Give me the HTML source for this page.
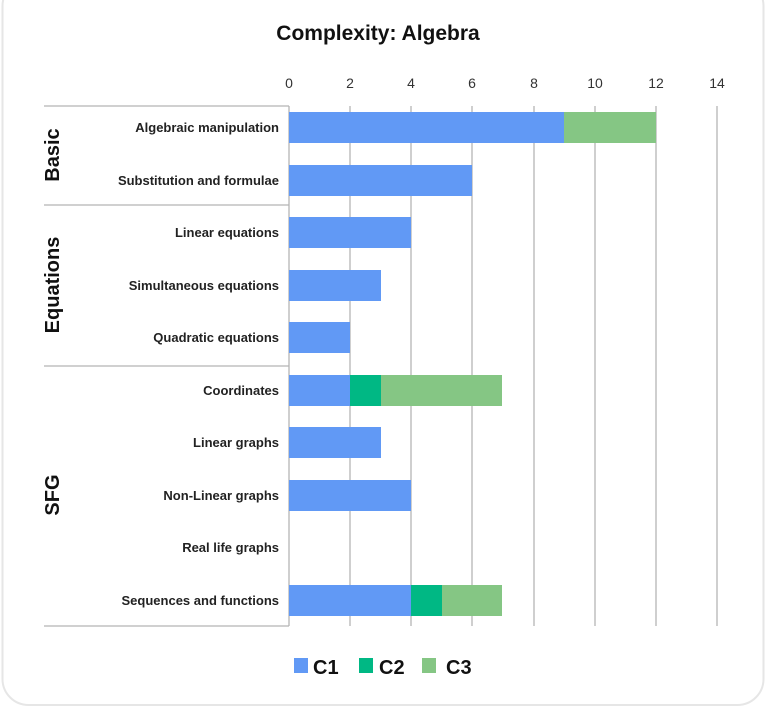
<!DOCTYPE html>
<html><head><meta charset="utf-8"><style>
body{margin:0;background:#fff;}
svg text{font-family:"Liberation Sans",sans-serif;}
</style></head><body>
<svg width="768" height="711" viewBox="0 0 768 711" xmlns="http://www.w3.org/2000/svg">
<rect x="2.5" y="-20" width="761" height="725" rx="26" fill="#fff" stroke="#e6e6e6" stroke-width="2"/>
<text x="378" y="40" text-anchor="middle" font-size="21" font-weight="bold" fill="#111">Complexity: Algebra</text>
<g stroke="#b5b5b5" stroke-width="1.3">
<line x1="350" y1="106" x2="350" y2="626"/><line x1="411" y1="106" x2="411" y2="626"/>
<line x1="472" y1="106" x2="472" y2="626"/><line x1="534" y1="106" x2="534" y2="626"/>
<line x1="595" y1="106" x2="595" y2="626"/><line x1="656" y1="106" x2="656" y2="626"/>
<line x1="717" y1="106" x2="717" y2="626"/>
<line x1="289" y1="106" x2="289" y2="626"/>
<line x1="44" y1="106" x2="289" y2="106"/><line x1="44" y1="205" x2="289" y2="205"/>
<line x1="44" y1="366" x2="289" y2="366"/><line x1="44" y1="626" x2="289" y2="626"/>
</g>
<g font-size="14" fill="#333" text-anchor="middle">
<text x="289" y="88">0</text><text x="350" y="88">2</text><text x="411" y="88">4</text><text x="472" y="88">6</text><text x="534" y="88">8</text><text x="595" y="88">10</text><text x="656" y="88">12</text><text x="717" y="88">14</text>
</g>
<g font-size="13" font-weight="bold" fill="#222" text-anchor="end">
<text x="279" y="132">Algebraic manipulation</text>
<text x="279" y="185">Substitution and formulae</text>
<text x="279" y="237">Linear equations</text>
<text x="279" y="290">Simultaneous equations</text>
<text x="279" y="342">Quadratic equations</text>
<text x="279" y="395">Coordinates</text>
<text x="279" y="447">Linear graphs</text>
<text x="279" y="500">Non-Linear graphs</text>
<text x="279" y="552">Real life graphs</text>
<text x="279" y="605">Sequences and functions</text>
</g>
<g font-size="20" font-weight="bold" fill="#111" text-anchor="middle">
<text transform="translate(59,155) rotate(-90)">Basic</text>
<text transform="translate(59,285) rotate(-90)">Equations</text>
<text transform="translate(59,495) rotate(-90)">SFG</text>
</g>
<g>
<rect x="289" y="112" width="275" height="31" fill="#6199f5"/><rect x="564" y="112" width="92" height="31" fill="#85c684"/>
<rect x="289" y="165" width="183" height="31" fill="#6199f5"/>
<rect x="289" y="217" width="122" height="31" fill="#6199f5"/>
<rect x="289" y="270" width="92" height="31" fill="#6199f5"/>
<rect x="289" y="322" width="61" height="31" fill="#6199f5"/>
<rect x="289" y="375" width="61" height="31" fill="#6199f5"/><rect x="350" y="375" width="31" height="31" fill="#00b884"/><rect x="381" y="375" width="121" height="31" fill="#85c684"/>
<rect x="289" y="427" width="92" height="31" fill="#6199f5"/>
<rect x="289" y="480" width="122" height="31" fill="#6199f5"/>
<rect x="289" y="585" width="122" height="31" fill="#6199f5"/><rect x="411" y="585" width="31" height="31" fill="#00b884"/><rect x="442" y="585" width="60" height="31" fill="#85c684"/>
</g>
<rect x="294" y="658" width="14" height="15" fill="#6199f5"/>
<text x="313" y="674" font-size="20" font-weight="bold" fill="#111">C1</text>
<rect x="359" y="658" width="14" height="15" fill="#00b884"/>
<text x="379" y="674" font-size="20" font-weight="bold" fill="#111">C2</text>
<rect x="422" y="658" width="14" height="15" fill="#85c684"/>
<text x="446" y="674" font-size="20" font-weight="bold" fill="#111">C3</text>
</svg>
</body></html>
